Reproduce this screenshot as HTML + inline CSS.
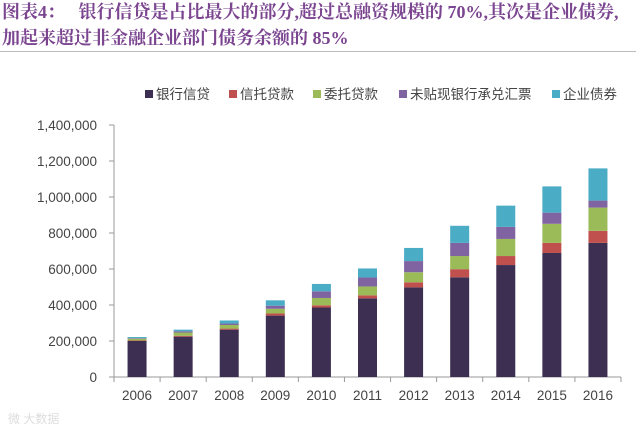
<!DOCTYPE html>
<html><head><meta charset="utf-8"><style>
body{margin:0;width:636px;height:431px;background:#fff;overflow:hidden;position:relative;font-family:"Liberation Sans","Noto Sans CJK SC",sans-serif}
.title{position:absolute;left:2px;white-space:nowrap;font-family:"Liberation Serif","Noto Serif CJK SC",serif;font-weight:bold;font-size:18px;line-height:22px;color:#7b4590}
.leg{position:absolute;top:83px;font-size:13.5px;color:#444;white-space:nowrap}
.leg i{display:inline-block;width:8px;height:8px;margin-right:3px;vertical-align:1px}
</style></head><body>
<div class="title" style="top:1px">图表4：&nbsp;&nbsp;&nbsp;银行信贷是占比最大的部分,超过总融资规模的 70%,其次是企业债券,</div>
<div class="title" style="top:27px">加起来超过非金融企业部门债务余额的 85%</div>
<div style="position:absolute;left:0;top:51px;width:636px;height:1px;background:#bbb"></div>
<div class="leg" style="left:145px"><i style="background:#3d2f52"></i>银行信贷</div>
<div class="leg" style="left:229px"><i style="background:#c0504d"></i>信托贷款</div>
<div class="leg" style="left:313px"><i style="background:#9bbb59"></i>委托贷款</div>
<div class="leg" style="left:399px"><i style="background:#8064a2"></i>未贴现银行承兑汇票</div>
<div class="leg" style="left:552px"><i style="background:#4bacc6"></i>企业债券</div>
<svg id="chart" width="636" height="431" style="position:absolute;left:0;top:0"></svg>
<div style="position:absolute;left:8px;top:410px;font-size:12px;color:#ddd">微 大数据</div>
<script>
const categories=["2006","2007","2008","2009","2010","2011","2012","2013","2014","2015","2016"];
const bankLoans=[200000,224000,263000,341000,386000,437000,498000,554000,622000,689000,745000];
const trustLoans=[3000,5000,6000,12000,12000,17000,28000,45000,50000,56000,67000];
const entrustedLoans=[10000,18000,20000,26000,41000,49000,56000,73000,95000,106000,129000];
const acceptances=[3000,7000,8000,17000,37000,50000,62000,73000,67000,62000,39000];
const corpBonds=[6000,9000,17000,30000,41000,50000,73000,95000,118000,146000,179000];
const yTicks=[0,200000,400000,600000,800000,1000000,1200000,1400000];
const series=[[bankLoans,"#3d2f52","bank-loans"],[trustLoans,"#c0504d","trust-loans"],[entrustedLoans,"#9bbb59","entrusted-loans"],[acceptances,"#8064a2","bankers-acceptance"],[corpBonds,"#4bacc6","corporate-bonds"]];
const svg=document.getElementById('chart');const NS="http://www.w3.org/2000/svg";
const x0=114,x1=621,y0=377,yTop=125,vmax=1400000;
const band=(x1-x0)/categories.length;
const Y=v=>y0-v/vmax*(y0-yTop);
const X=i=>x0+band*(i+0.5);
function mk(t,a){const e=document.createElementNS(NS,t);for(const k in a)e.setAttribute(k,a[k]);svg.appendChild(e);return e;}
let ax=mk('line',{x1:x0,y1:yTop,x2:x0,y2:y0,stroke:'#999'});


let xa=mk('line',{x1:x0,y1:y0,x2:x1,y2:y0,stroke:'#999'});


yTicks.forEach(v=>{
 mk('line',{x1:x0-5,y1:Y(v),x2:x0,y2:Y(v),stroke:'#999'});
 const t=mk('text',{x:97,y:Y(v)+5,'text-anchor':'end','font-size':13.5,fill:'#444','font-family':'Liberation Sans,sans-serif'});
 t.textContent=v.toLocaleString('en-US');
 
 
});
for(let i=0;i<=categories.length;i++)mk('line',{x1:x0+band*i,y1:y0,x2:x0+band*i,y2:y0+5,stroke:'#999'});
categories.forEach((c,i)=>{
 const t=mk('text',{x:X(i),y:400,'text-anchor':'middle','font-size':13.5,fill:'#444','font-family':'Liberation Sans,sans-serif'});
 t.textContent=c;
 
 
 let acc=0;const w=19;
 series.forEach(([arr,col,nm])=>{
  const v=arr[i];
  const r=mk('rect',{x:X(i)-w/2,y:Y(acc+v),width:w,height:Y(acc)-Y(acc+v),fill:col});
  
  
  acc+=v;
 });
});
</script>
</body></html>
